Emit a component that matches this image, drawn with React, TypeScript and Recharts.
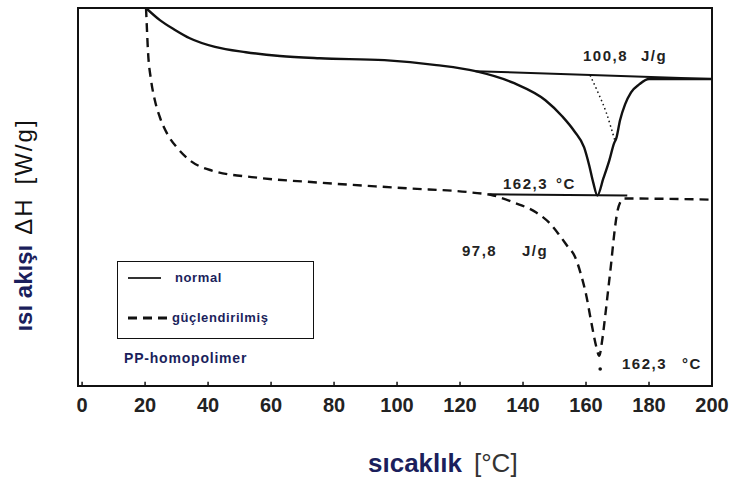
import React from 'react';
import { LineChart, Line, XAxis, YAxis, ReferenceArea, ReferenceDot, ReferenceLine } from 'recharts';

// DSC curves, x = temperature [°C], y = heat flow (arbitrary units, 0-100)
const normalCurve = [
  { t: 20.3, h: 100 }, { t: 24.7, h: 96.8 }, { t: 29.5, h: 94.2 }, { t: 34.2, h: 92.0 },
  { t: 42.2, h: 89.7 }, { t: 52.0, h: 88.3 }, { t: 62.8, h: 87.3 }, { t: 75.4, h: 86.7 },
  { t: 96.0, h: 86.2 }, { t: 112.5, h: 84.9 }, { t: 124.9, h: 83.3 }, { t: 137.2, h: 80.1 },
  { t: 147.1, h: 75.6 }, { t: 152.5, h: 71.3 }, { t: 156.3, h: 67.4 }, { t: 159.4, h: 63.1 },
  { t: 161.0, h: 58.4 }, { t: 162.3, h: 53.8 }, { t: 163.6, h: 50.4 }, { t: 165.5, h: 54.9 },
  { t: 167.4, h: 59.7 }, { t: 168.9, h: 64.2 }, { t: 169.6, h: 65.5 }, { t: 170.8, h: 70.3 },
  { t: 172.4, h: 74.5 }, { t: 174.3, h: 77.7 }, { t: 176.9, h: 79.8 }, { t: 180.0, h: 81.2 },
  { t: 199.7, h: 81.2 },
];

const enhancedCurve = [
  { t: 20.3, h: 100 }, { t: 20.6, h: 94.2 }, { t: 20.9, h: 88.9 }, { t: 21.9, h: 80.9 },
  { t: 23.1, h: 75.6 }, { t: 24.7, h: 71.1 }, { t: 27.3, h: 66.3 }, { t: 30.1, h: 63.1 },
  { t: 34.2, h: 59.7 }, { t: 41.2, h: 57.0 }, { t: 54.8, h: 55.2 }, { t: 75.4, h: 53.8 },
  { t: 103.0, h: 52.3 }, { t: 123.6, h: 51.2 }, { t: 130.6, h: 50.4 }, { t: 137.2, h: 48.5 },
  { t: 144.2, h: 45.9 }, { t: 148.3, h: 43.2 }, { t: 151.2, h: 40.3 }, { t: 154.0, h: 37.1 },
  { t: 156.6, h: 34.0 }, { t: 158.5, h: 29.2 }, { t: 160.1, h: 23.9 }, { t: 161.6, h: 17.2 },
  { t: 163.2, h: 10.6 }, { t: 164.2, h: 8.0 }, { t: 165.1, h: 11.9 }, { t: 166.1, h: 18.6 },
  { t: 167.0, h: 25.2 }, { t: 168.0, h: 32.6 }, { t: 168.9, h: 39.8 }, { t: 169.9, h: 45.9 },
  { t: 170.8, h: 48.5 }, { t: 172.1, h: 49.6 }, { t: 199.7, h: 49.3 },
];

// integration baselines
const normalBaseline = [{ t: 124.9, h: 83.3 }, { t: 199.7, h: 81.2 }];
const enhancedBaseline = [{ t: 129.3, h: 50.7 }, { t: 173.1, h: 50.4 }];
const normalExtrapolated = [
  { t: 161.3, h: 82.2 }, { t: 164.2, h: 76.9 }, { t: 166.4, h: 72.4 }, { t: 168.0, h: 68.2 }, { t: 169.3, h: 64.5 },
];
const peakMark = { t: 164.5, h: 4.5 };

const xTicks = [0, 20, 40, 60, 80, 100, 120, 140, 160, 180, 200];

const navy = '#1b1f5c';
const ink = '#111';
const font = 'Liberation Sans, Arial, sans-serif';

const ChartLegend = () => (
  <div style={{ position: 'absolute', left: 117, top: 261, width: 195, height: 76, border: `1.5px solid ${ink}`, background: '#fff', fontFamily: font, fontWeight: 'bold', fontSize: 13, letterSpacing: 0.6, color: navy }}>
    <svg width={50} height={76} style={{ position: 'absolute', left: 8, top: 0 }}>
      <line x1={2} x2={35} y1={16} y2={16} stroke="#333" strokeWidth={2} />
      <line x1={2} x2={42} y1={56} y2={56} stroke={ink} strokeWidth={3} strokeDasharray="9 6" />
    </svg>
    <div style={{ position: 'absolute', left: 57, top: 8 }}>normal</div>
    <div style={{ position: 'absolute', left: 54, top: 48 }}>güçlendirilmiş</div>
  </div>
);

const txt = (s: string, left: number, cy: number, extra: React.CSSProperties = {}) => (
  <div style={{ position: 'absolute', left, top: cy, transform: 'translateY(-50%)', lineHeight: 1, whiteSpace: 'pre', fontFamily: font, fontSize: 15, color: '#222', fontWeight: 'bold', letterSpacing: 1.5, ...extra }}>{s}</div>
);

export default function App() {
  return (
    <div style={{ position: 'absolute', left: 0, top: 0, width: 739, height: 480, background: '#fff' }}>
      <LineChart width={739} height={480} margin={{ top: 8, right: 27, bottom: 64, left: 78 }}>
        <XAxis
          dataKey="t"
          type="number"
          domain={[-1.3, 200]}
          ticks={xTicks}
          allowDataOverflow
          axisLine={{ stroke: ink, strokeWidth: 2 }}
          tickLine={false}
          tickSize={6}
          tickMargin={6}
          height={30}
          tick={{ fontSize: 20, fontWeight: 'bold', fill: '#222', fontFamily: font }}
        />
        <YAxis type="number" domain={[0, 100]} hide allowDataOverflow />
        <ReferenceArea x1={-1.3} x2={200} y1={0} y2={100} fill="none" stroke={ink} strokeWidth={2} ifOverflow="visible" />
        {xTicks.map((t) => (
          <ReferenceLine key={t} segment={[{ x: t, y: 0 }, { x: t, y: 1.1 }]} stroke={ink} strokeWidth={1.5} />
        ))}
        <Line data={normalBaseline} dataKey="h" type="linear" stroke={ink} strokeWidth={2} dot={false} isAnimationActive={false} />
        <Line data={enhancedBaseline} dataKey="h" type="linear" stroke={ink} strokeWidth={2} dot={false} isAnimationActive={false} />
        <Line data={normalExtrapolated} dataKey="h" type="monotone" stroke={ink} strokeWidth={1.5} strokeDasharray="1.5 3" dot={false} isAnimationActive={false} />
        <Line data={normalCurve} dataKey="h" name="normal" type="monotone" stroke={ink} strokeWidth={2.4} dot={false} isAnimationActive={false} />
        <Line data={enhancedCurve} dataKey="h" name="güçlendirilmiş" type="monotone" stroke={ink} strokeWidth={2.4} strokeDasharray="9 6" dot={false} isAnimationActive={false} />
        <ReferenceDot x={peakMark.t} y={peakMark.h} r={1.8} fill={ink} stroke="none" />
      </LineChart>

      <ChartLegend />

      {txt('100,8', 583, 55)}
      {txt('J/g', 641, 55)}
      {txt('162,3', 503, 183)}
      {txt('°C', 556, 183)}
      {txt('97,8', 462, 250)}
      {txt('J/g', 522, 250)}
      {txt('162,3', 622, 363)}
      {txt('°C', 682, 363)}
      {txt('PP-homopolimer', 124, 358, { fontSize: 14, color: navy, letterSpacing: 0.8 })}

      <div style={{ position: 'absolute', left: 368, top: 463, transform: 'translateY(-50%)', lineHeight: 1, whiteSpace: 'pre', fontFamily: font, fontSize: 26 }}>
        <span style={{ color: navy, fontWeight: 'bold' }}>sıcaklık</span>
        <span style={{ color: '#333', marginLeft: 12 }}>[°C]</span>
      </div>

      <div style={{ position: 'absolute', left: 24, top: 225, width: 0, height: 0 }}>
        <div style={{ position: 'absolute', transform: 'translate(-50%, -50%) rotate(-90deg)', lineHeight: 1, whiteSpace: 'pre', fontFamily: font, fontSize: 24 }}>
          <span style={{ color: navy, fontWeight: 'bold' }}>ısı akışı</span>
          <span style={{ color: '#111', marginLeft: 10, letterSpacing: 2 }}>ΔH</span>
          <span style={{ color: '#111', marginLeft: 13, letterSpacing: 2 }}>[W/g]</span>
        </div>
      </div>
    </div>
  );
}
